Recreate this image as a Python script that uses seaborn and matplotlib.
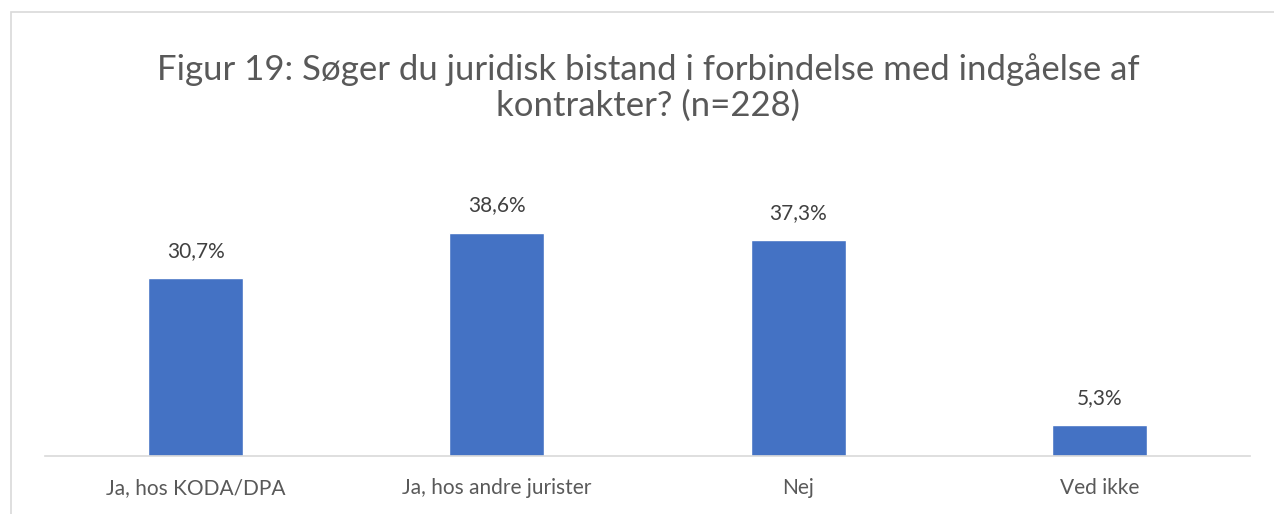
"""Figur 19 bar chart, seaborn version"""
import matplotlib.pyplot as plt
import matplotlib.patches as mpatches
import seaborn as sns
import pandas as pd

categories = ["Ja, hos KODA/DPA", "Ja, hos andre jurister", "Nej", "Ved ikke"]
shares = [30.7, 38.6, 37.3, 5.3]
value_labels = ["30,7%", "38,6%", "37,3%", "5,3%"]
title = "Figur 19: Søger du juridisk bistand i forbindelse med indgåelse af\nkontrakter? (n=228)"

sns.set_style("white")
plt.rcParams["font.family"] = ["Lato", "DejaVu Sans"]

df = pd.DataFrame({"Svar": categories, "Andel": shares})

fig = plt.figure(figsize=(12.74, 5.14), dpi=100)
# light frame around the chart area
fig.patches.append(
    mpatches.Rectangle(
        (11 / 1274, -0.1), 1.2, (514 - 12) / 514 + 0.1,
        transform=fig.transFigure, fill=False, ec="#d9d9d9", lw=1.2,
    )
)
ax = fig.add_axes([45 / 1274, 58 / 514, 1205 / 1274, 283 / 514])

sns.barplot(data=df, x="Svar", y="Andel", color="#4472c4", width=0.315,
            saturation=1, ax=ax)

for i, (v, lab) in enumerate(zip(shares, value_labels)):
    ax.text(i, v + 3.0, lab, ha="center", va="bottom", fontsize=15,
            color="#404040")

ax.set_ylim(0, 48.9)
ax.set_xlim(-0.5, 3.5)
ax.set_yticks([])
ax.set_xlabel("")
ax.set_ylabel("")
ax.tick_params(axis="x", length=0, labelsize=15, colors="#595959", pad=16)
sns.despine(ax=ax, left=True, top=True, right=True)
ax.spines["bottom"].set_color("#d9d9d9")
ax.spines["bottom"].set_linewidth(1.2)

fig.text(0.509, 0.830, title, ha="center", va="center", fontsize=25,
         color="#595959", linespacing=1.12)

fig.savefig("out.png", dpi=100)
